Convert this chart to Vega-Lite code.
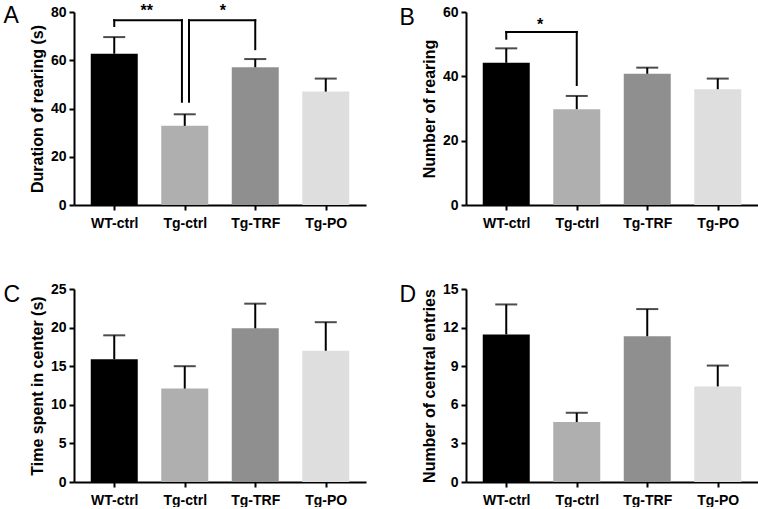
{
  "$schema": "https://vega.github.io/schema/vega-lite/v6.json",
  "background": "white",
  "padding": {"left": 3, "top": 2, "right": 0, "bottom": 0},
  "datasets": {
    "bars": [
      {"panel": "A", "group": "WT-ctrl", "x": 1, "mean": 62.7, "upper": 69.6},
      {"panel": "A", "group": "Tg-ctrl", "x": 2, "mean": 32.8, "upper": 37.6},
      {"panel": "A", "group": "Tg-TRF", "x": 3, "mean": 57.1, "upper": 60.5},
      {"panel": "A", "group": "Tg-PO", "x": 4, "mean": 47.0, "upper": 52.4},
      {"panel": "B", "group": "WT-ctrl", "x": 1, "mean": 44.2, "upper": 48.7},
      {"panel": "B", "group": "Tg-ctrl", "x": 2, "mean": 29.8, "upper": 33.9},
      {"panel": "B", "group": "Tg-TRF", "x": 3, "mean": 40.8, "upper": 42.7},
      {"panel": "B", "group": "Tg-PO", "x": 4, "mean": 36.0, "upper": 39.3},
      {"panel": "C", "group": "WT-ctrl", "x": 1, "mean": 15.9, "upper": 19.0},
      {"panel": "C", "group": "Tg-ctrl", "x": 2, "mean": 12.1, "upper": 15.0},
      {"panel": "C", "group": "Tg-TRF", "x": 3, "mean": 19.9, "upper": 23.1},
      {"panel": "C", "group": "Tg-PO", "x": 4, "mean": 17.0, "upper": 20.7},
      {"panel": "D", "group": "WT-ctrl", "x": 1, "mean": 11.47, "upper": 13.8},
      {"panel": "D", "group": "Tg-ctrl", "x": 2, "mean": 4.66, "upper": 5.38},
      {"panel": "D", "group": "Tg-TRF", "x": 3, "mean": 11.33, "upper": 13.44},
      {"panel": "D", "group": "Tg-PO", "x": 4, "mean": 7.43, "upper": 9.05}
    ],
    "brackets": [
      {"panel": "A", "x": 1, "x2": 1, "y": 74.2, "y2": 76.6},
      {"panel": "A", "x": 1, "x2": 1.96, "y": 76.6, "y2": 76.6},
      {"panel": "A", "x": 1.96, "x2": 1.96, "y": 76.6, "y2": 42.8},
      {"panel": "A", "x": 2.06, "x2": 2.06, "y": 42.8, "y2": 76.6},
      {"panel": "A", "x": 2.06, "x2": 3, "y": 76.6, "y2": 76.6},
      {"panel": "A", "x": 3, "x2": 3, "y": 76.6, "y2": 64.6},
      {"panel": "B", "x": 1, "x2": 1, "y": 51.7, "y2": 53.8},
      {"panel": "B", "x": 1, "x2": 2, "y": 53.8, "y2": 53.8},
      {"panel": "B", "x": 2, "x2": 2, "y": 53.8, "y2": 37.3}
    ],
    "stars": [
      {"panel": "A", "x": 1.46, "y": 80.5, "label": "**"},
      {"panel": "A", "x": 2.54, "y": 80.5, "label": "*"},
      {"panel": "B", "x": 1.48, "y": 56.0, "label": "*"}
    ]
  },
  "config": {
    "view": {"stroke": null},
    "font": "Liberation Sans",
    "axis": {
      "grid": false,
      "domainColor": "black",
      "domainWidth": 2,
      "tickColor": "black",
      "tickWidth": 2,
      "tickSize": 5,
      "labelColor": "black",
      "labelFont": "Liberation Sans",
      "labelFontWeight": "bold",
      "titleColor": "black",
      "titleFont": "Liberation Sans",
      "titleFontWeight": "bold",
      "titleFontSize": 16
    },
    "axisX": {"labelFontSize": 14, "labelPadding": 6, "labelAngle": 0},
    "axisY": {"labelFontSize": 14, "labelPadding": 3, "titlePadding": 5},
    "title": {"anchor": "start", "fontWeight": "normal", "fontSize": 23, "color": "black", "font": "Liberation Sans", "frame": "bounds"}
  },
  "columns": 2,
  "bounds": "flush",
  "spacing": {"row": 84, "column": 100},
  "concat": [
    {
      "width": 292, "height": 193,
      "title": {"text": "A", "offset": -25, "dx": -26},
      "encoding": {
        "x": {"field": "x", "type": "quantitative", "scale": {"domain": [0.5, 4.5], "nice": false, "zero": false},
              "axis": {"values": [1, 2, 3, 4], "title": null, "labelExpr": "['WT-ctrl','Tg-ctrl','Tg-TRF','Tg-PO'][datum.value-1]"}}
      },
      "layer": [
        {"data": {"name": "bars"}, "transform": [{"filter": "datum.panel == 'A'"}],
         "mark": {"type": "bar", "width": 47, "orient": "vertical"},
         "encoding": {
           "y": {"field": "mean", "type": "quantitative", "scale": {"domain": [0, 80], "nice": false},
                 "axis": {"values": [0, 20, 40, 60, 80], "title": "Duration of rearing (s)"}},
           "color": {"field": "group", "type": "nominal", "legend": null,
                     "scale": {"domain": ["WT-ctrl", "Tg-ctrl", "Tg-TRF", "Tg-PO"], "range": ["#000000", "#afafaf", "#8f8f8f", "#dedede"]}}
         }},
        {"data": {"name": "bars"}, "transform": [{"filter": "datum.panel == 'A'"}],
         "mark": {"type": "rule", "color": "black", "strokeWidth": 2},
         "encoding": {"y": {"field": "mean", "type": "quantitative", "axis": {"values": [0, 20, 40, 60, 80], "title": "Duration of rearing (s)"}}, "y2": {"field": "upper"}}},
        {"data": {"name": "bars"}, "transform": [{"filter": "datum.panel == 'A'"}],
         "mark": {"type": "tick", "orient": "horizontal", "color": "black", "thickness": 2, "size": 22},
         "encoding": {"y": {"field": "upper", "type": "quantitative", "axis": {"values": [0, 20, 40, 60, 80], "title": "Duration of rearing (s)"}}}},
        {"data": {"name": "brackets"}, "transform": [{"filter": "datum.panel == 'A'"}],
         "mark": {"type": "rule", "color": "black", "strokeWidth": 2, "strokeCap": "square"},
         "encoding": {"x2": {"field": "x2"}, "y": {"field": "y", "type": "quantitative", "axis": {"values": [0, 20, 40, 60, 80], "title": "Duration of rearing (s)"}}, "y2": {"field": "y2"}}},
        {"data": {"name": "stars"}, "transform": [{"filter": "datum.panel == 'A'"}],
         "mark": {"type": "text", "fontSize": 16, "fontWeight": "bold", "color": "black", "baseline": "middle"},
         "encoding": {"y": {"field": "y", "type": "quantitative", "axis": {"values": [0, 20, 40, 60, 80], "title": "Duration of rearing (s)"}}, "text": {"field": "label"}}}
      ]
    },
    {
      "width": 292, "height": 193,
      "title": {"text": "B", "offset": -25, "dx": -22},
      "encoding": {
        "x": {"field": "x", "type": "quantitative", "scale": {"domain": [0.5, 4.5], "nice": false, "zero": false},
              "axis": {"values": [1, 2, 3, 4], "title": null, "labelExpr": "['WT-ctrl','Tg-ctrl','Tg-TRF','Tg-PO'][datum.value-1]"}}
      },
      "layer": [
        {"data": {"name": "bars"}, "transform": [{"filter": "datum.panel == 'B'"}],
         "mark": {"type": "bar", "width": 47, "orient": "vertical"},
         "encoding": {
           "y": {"field": "mean", "type": "quantitative", "scale": {"domain": [0, 60], "nice": false},
                 "axis": {"values": [0, 20, 40, 60], "title": "Number of rearing"}},
           "color": {"field": "group", "type": "nominal", "legend": null,
                     "scale": {"domain": ["WT-ctrl", "Tg-ctrl", "Tg-TRF", "Tg-PO"], "range": ["#000000", "#afafaf", "#8f8f8f", "#dedede"]}}
         }},
        {"data": {"name": "bars"}, "transform": [{"filter": "datum.panel == 'B'"}],
         "mark": {"type": "rule", "color": "black", "strokeWidth": 2},
         "encoding": {"y": {"field": "mean", "type": "quantitative", "axis": {"values": [0, 20, 40, 60], "title": "Number of rearing"}}, "y2": {"field": "upper"}}},
        {"data": {"name": "bars"}, "transform": [{"filter": "datum.panel == 'B'"}],
         "mark": {"type": "tick", "orient": "horizontal", "color": "black", "thickness": 2, "size": 22},
         "encoding": {"y": {"field": "upper", "type": "quantitative", "axis": {"values": [0, 20, 40, 60], "title": "Number of rearing"}}}},
        {"data": {"name": "brackets"}, "transform": [{"filter": "datum.panel == 'B'"}],
         "mark": {"type": "rule", "color": "black", "strokeWidth": 2, "strokeCap": "square"},
         "encoding": {"x2": {"field": "x2"}, "y": {"field": "y", "type": "quantitative", "axis": {"values": [0, 20, 40, 60], "title": "Number of rearing"}}, "y2": {"field": "y2"}}},
        {"data": {"name": "stars"}, "transform": [{"filter": "datum.panel == 'B'"}],
         "mark": {"type": "text", "fontSize": 16, "fontWeight": "bold", "color": "black", "baseline": "middle"},
         "encoding": {"y": {"field": "y", "type": "quantitative", "axis": {"values": [0, 20, 40, 60], "title": "Number of rearing"}}, "text": {"field": "label"}}}
      ]
    },
    {
      "width": 292, "height": 193,
      "title": {"text": "C", "offset": -25, "dx": -26},
      "encoding": {
        "x": {"field": "x", "type": "quantitative", "scale": {"domain": [0.5, 4.5], "nice": false, "zero": false},
              "axis": {"values": [1, 2, 3, 4], "title": null, "labelExpr": "['WT-ctrl','Tg-ctrl','Tg-TRF','Tg-PO'][datum.value-1]"}}
      },
      "layer": [
        {"data": {"name": "bars"}, "transform": [{"filter": "datum.panel == 'C'"}],
         "mark": {"type": "bar", "width": 47, "orient": "vertical"},
         "encoding": {
           "y": {"field": "mean", "type": "quantitative", "scale": {"domain": [0, 25], "nice": false},
                 "axis": {"values": [0, 5, 10, 15, 20, 25], "title": "Time spent in center (s)"}},
           "color": {"field": "group", "type": "nominal", "legend": null,
                     "scale": {"domain": ["WT-ctrl", "Tg-ctrl", "Tg-TRF", "Tg-PO"], "range": ["#000000", "#afafaf", "#8f8f8f", "#dedede"]}}
         }},
        {"data": {"name": "bars"}, "transform": [{"filter": "datum.panel == 'C'"}],
         "mark": {"type": "rule", "color": "black", "strokeWidth": 2},
         "encoding": {"y": {"field": "mean", "type": "quantitative", "axis": {"values": [0, 5, 10, 15, 20, 25], "title": "Time spent in center (s)"}}, "y2": {"field": "upper"}}},
        {"data": {"name": "bars"}, "transform": [{"filter": "datum.panel == 'C'"}],
         "mark": {"type": "tick", "orient": "horizontal", "color": "black", "thickness": 2, "size": 22},
         "encoding": {"y": {"field": "upper", "type": "quantitative", "axis": {"values": [0, 5, 10, 15, 20, 25], "title": "Time spent in center (s)"}}}}
      ]
    },
    {
      "width": 292, "height": 193,
      "title": {"text": "D", "offset": -25, "dx": -22},
      "encoding": {
        "x": {"field": "x", "type": "quantitative", "scale": {"domain": [0.5, 4.5], "nice": false, "zero": false},
              "axis": {"values": [1, 2, 3, 4], "title": null, "labelExpr": "['WT-ctrl','Tg-ctrl','Tg-TRF','Tg-PO'][datum.value-1]"}}
      },
      "layer": [
        {"data": {"name": "bars"}, "transform": [{"filter": "datum.panel == 'D'"}],
         "mark": {"type": "bar", "width": 47, "orient": "vertical"},
         "encoding": {
           "y": {"field": "mean", "type": "quantitative", "scale": {"domain": [0, 15], "nice": false},
                 "axis": {"values": [0, 3, 6, 9, 12, 15], "title": "Number of central entries"}},
           "color": {"field": "group", "type": "nominal", "legend": null,
                     "scale": {"domain": ["WT-ctrl", "Tg-ctrl", "Tg-TRF", "Tg-PO"], "range": ["#000000", "#afafaf", "#8f8f8f", "#dedede"]}}
         }},
        {"data": {"name": "bars"}, "transform": [{"filter": "datum.panel == 'D'"}],
         "mark": {"type": "rule", "color": "black", "strokeWidth": 2},
         "encoding": {"y": {"field": "mean", "type": "quantitative", "axis": {"values": [0, 3, 6, 9, 12, 15], "title": "Number of central entries"}}, "y2": {"field": "upper"}}},
        {"data": {"name": "bars"}, "transform": [{"filter": "datum.panel == 'D'"}],
         "mark": {"type": "tick", "orient": "horizontal", "color": "black", "thickness": 2, "size": 22},
         "encoding": {"y": {"field": "upper", "type": "quantitative", "axis": {"values": [0, 3, 6, 9, 12, 15], "title": "Number of central entries"}}}}
      ]
    }
  ]
}
